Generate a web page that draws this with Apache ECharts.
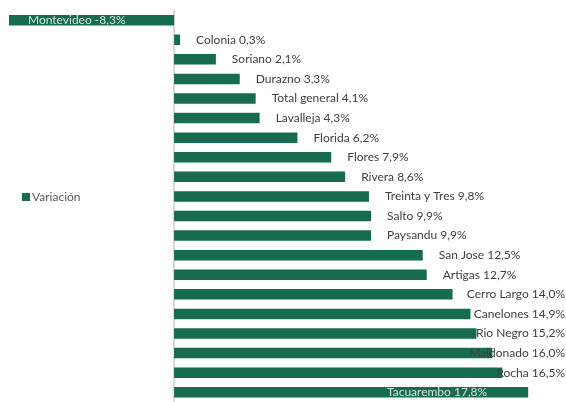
<!DOCTYPE html>
<html>
<head>
<meta charset="utf-8">
<style>
  html, body { margin: 0; padding: 0; background: #fff; }
  #chart { width: 566px; height: 402px; }
</style>
<script src="https://cdn.jsdelivr.net/npm/echarts@6/dist/echarts.min.js"></script>
</head>
<body>
<div id="chart"></div>
<script>
const departamentos = [
  'Montevideo', 'Colonia', 'Soriano', 'Durazno', 'Total general', 'Lavalleja',
  'Florida', 'Flores', 'Rivera', 'Treinta y Tres', 'Salto', 'Paysandu',
  'San Jose', 'Artigas', 'Cerro Largo', 'Canelones', 'Rio Negro', 'Maldonado',
  'Rocha', 'Tacuarembo'
]
const variacion = [
  -8.3, 0.3, 2.1, 3.3, 4.1, 4.3,
  6.2, 7.9, 8.6, 9.8, 9.9, 9.9,
  12.5, 12.7, 14.0, 14.9, 15.2, 16.0,
  16.5, 17.8
]

const verde = '#176b4f'
const chart = echarts.init(document.getElementById('chart'))

const fmt = (v) => v.toFixed(1).replace('.', ',') + '%'

// first and last labels sit inside their bars, like the original
const barData = variacion.map((v, i) => {
  const item = {value: v}
  if (i === 0) {
    item.label = {position: 'insideLeft', distance: 19, color: '#d4e2db', offset: [0, 2]}
  } else if (i === variacion.length - 1) {
    item.label = {position: 'insideRight', distance: 41, color: '#d4e2db', offset: [0, 1]}
  }
  return item
})

chart.setOption({
  backgroundColor: '#ffffff',
  animation: false,
  textStyle: {
    fontFamily: 'Lato',
  },
  legend: {
    orient: 'vertical',
    left: 17,
    top: 186,
    icon: 'rect',
    itemWidth: 8,
    itemHeight: 8,
    itemGap: 4,
    textStyle: {
      color: '#595959',
      fontSize: 12,
      padding: [0, 0, 0, -3],
    },
    data: ['Variación'],
  },
  grid: {
    left: 5,
    width: 557,
    top: 10.4,
    height: 395.6,
    containLabel: false,
  },
  xAxis: {
    type: 'value',
    min: -8.5,
    max: 19.5,
    show: false,
  },
  yAxis: {
    type: 'category',
    inverse: true,
    data: departamentos,
    axisLine: {
      onZero: true,
      lineStyle: {
        color: '#d9d9d9',
        width: 2,
      },
    },
    axisTick: {show: false},
    axisLabel: {show: false},
    splitLine: {show: false},
  },
  series: [{
    name: 'Variación',
    type: 'bar',
    barWidth: 10.5,
    itemStyle: {
      color: verde,
    },
    label: {
      show: true,
      position: 'right',
      distance: 16,
      color: '#404040',
      fontSize: 12,
      fontFamily: 'Lato',
      formatter: (p) => p.name + ' ' + fmt(p.value),
    },
    labelLayout: (p) => {
      const r = p.labelRect
      if (p.dataIndex === 0 || p.dataIndex === variacion.length - 1) {
        return {}
      }
      // keep long labels inside the right edge
      if (r.x + r.width > 565) {
        return {dx: 565 - (r.x + r.width)}
      }
      return {}
    },
    data: barData,
  }],
})
</script>
</body>
</html>
